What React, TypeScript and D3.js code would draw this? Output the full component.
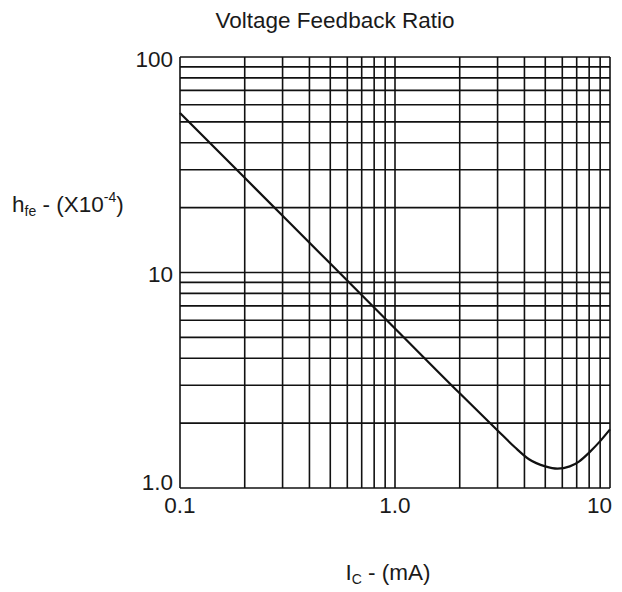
import React from 'react'
import * as d3 from 'd3'

// collector current (mA) and h_re (x10^-4)
const icValues = [0.1, 0.2, 0.5, 1, 2, 3, 3.6, 4.2, 5, 5.7, 6.5, 7.2, 8, 9, 10]
const hreValues = [55, 27.5, 11, 5.5, 2.75, 1.85, 1.55, 1.36, 1.26, 1.23, 1.26, 1.33, 1.46, 1.65, 1.87]

const xTickValues = [0.1, 1, 10]
const xTickLabels = ['0.1', '1.0', '10']
const yTickValues = [1, 10, 100]
const yTickLabels = ['1.0', '10', '100']

const width = 622
const height = 592
const font = 'Liberation Sans, Arial, Helvetica, sans-serif'
const fs = 22.5

export default function App() {
  const x = d3.scaleLog().domain([0.1, 10]).range([180, 610])
  const y = d3.scaleLog().domain([1, 100]).range([488, 57])

  const points = icValues.map((d, i) => [d, hreValues[i]] as [number, number])
  const line = d3
    .line<[number, number]>()
    .x((d) => x(d[0]))
    .y((d) => y(d[1]))
    .curve(d3.curveMonotoneX)

  const [x0, x1] = x.range()
  const [y0, y1] = y.range()

  return (
    <svg
      width={width}
      height={height}
      style={{ position: 'absolute', left: 0, top: 0, background: '#fff' }}
      fontFamily={font}
    >
      {/* title */}
      <text x={335} y={28} textAnchor="middle" fontSize={fs} fill="#1a1a1a">
        Voltage Feedback Ratio
      </text>

      {/* grid */}
      <g stroke="#111" strokeWidth={1.6}>
        {x.ticks().map((t, i) => (
          <line key={'vx' + i} x1={x(t)} x2={x(t)} y1={y1} y2={y0} />
        ))}
        {y.ticks().map((t, i) => (
          <line key={'hy' + i} x1={x0} x2={x1} y1={y(t)} y2={y(t)} />
        ))}
      </g>

      {/* curve */}
      <path d={line(points) ?? ''} fill="none" stroke="#111" strokeWidth={2.2} />

      {/* y tick labels */}
      {yTickValues.map((v, i) => (
        <text
          key={'yl' + i}
          x={x0 - 7}
          y={y(v) + (i === 0 ? 1.5 : 9.5)}
          textAnchor="end"
          fontSize={fs}
          fill="#1a1a1a"
        >
          {yTickLabels[i]}
        </text>
      ))}

      {/* x tick labels */}
      {xTickValues.map((v, i) => (
        <text
          key={'xl' + i}
          x={i === xTickValues.length - 1 ? x(v) + 2 : x(v)}
          y={y0 + 25}
          textAnchor={i === xTickValues.length - 1 ? 'end' : 'middle'}
          fontSize={fs}
          fill="#1a1a1a"
        >
          {xTickLabels[i]}
        </text>
      ))}

      {/* y axis label */}
      <text x={12} y={212} fontSize={fs} fill="#1a1a1a">
        h
        <tspan fontSize={14} dy={4}>fe</tspan>
        <tspan dy={-4}> - (X10</tspan>
        <tspan fontSize={14} dy={-10}>-4</tspan>
        <tspan dy={10}>)</tspan>
      </text>

      {/* x axis label */}
      <text x={388} y={580} textAnchor="middle" fontSize={fs} fill="#1a1a1a">
        I
        <tspan fontSize={14} dy={4}>C</tspan>
        <tspan dy={-4}> - (mA)</tspan>
      </text>
    </svg>
  )
}
